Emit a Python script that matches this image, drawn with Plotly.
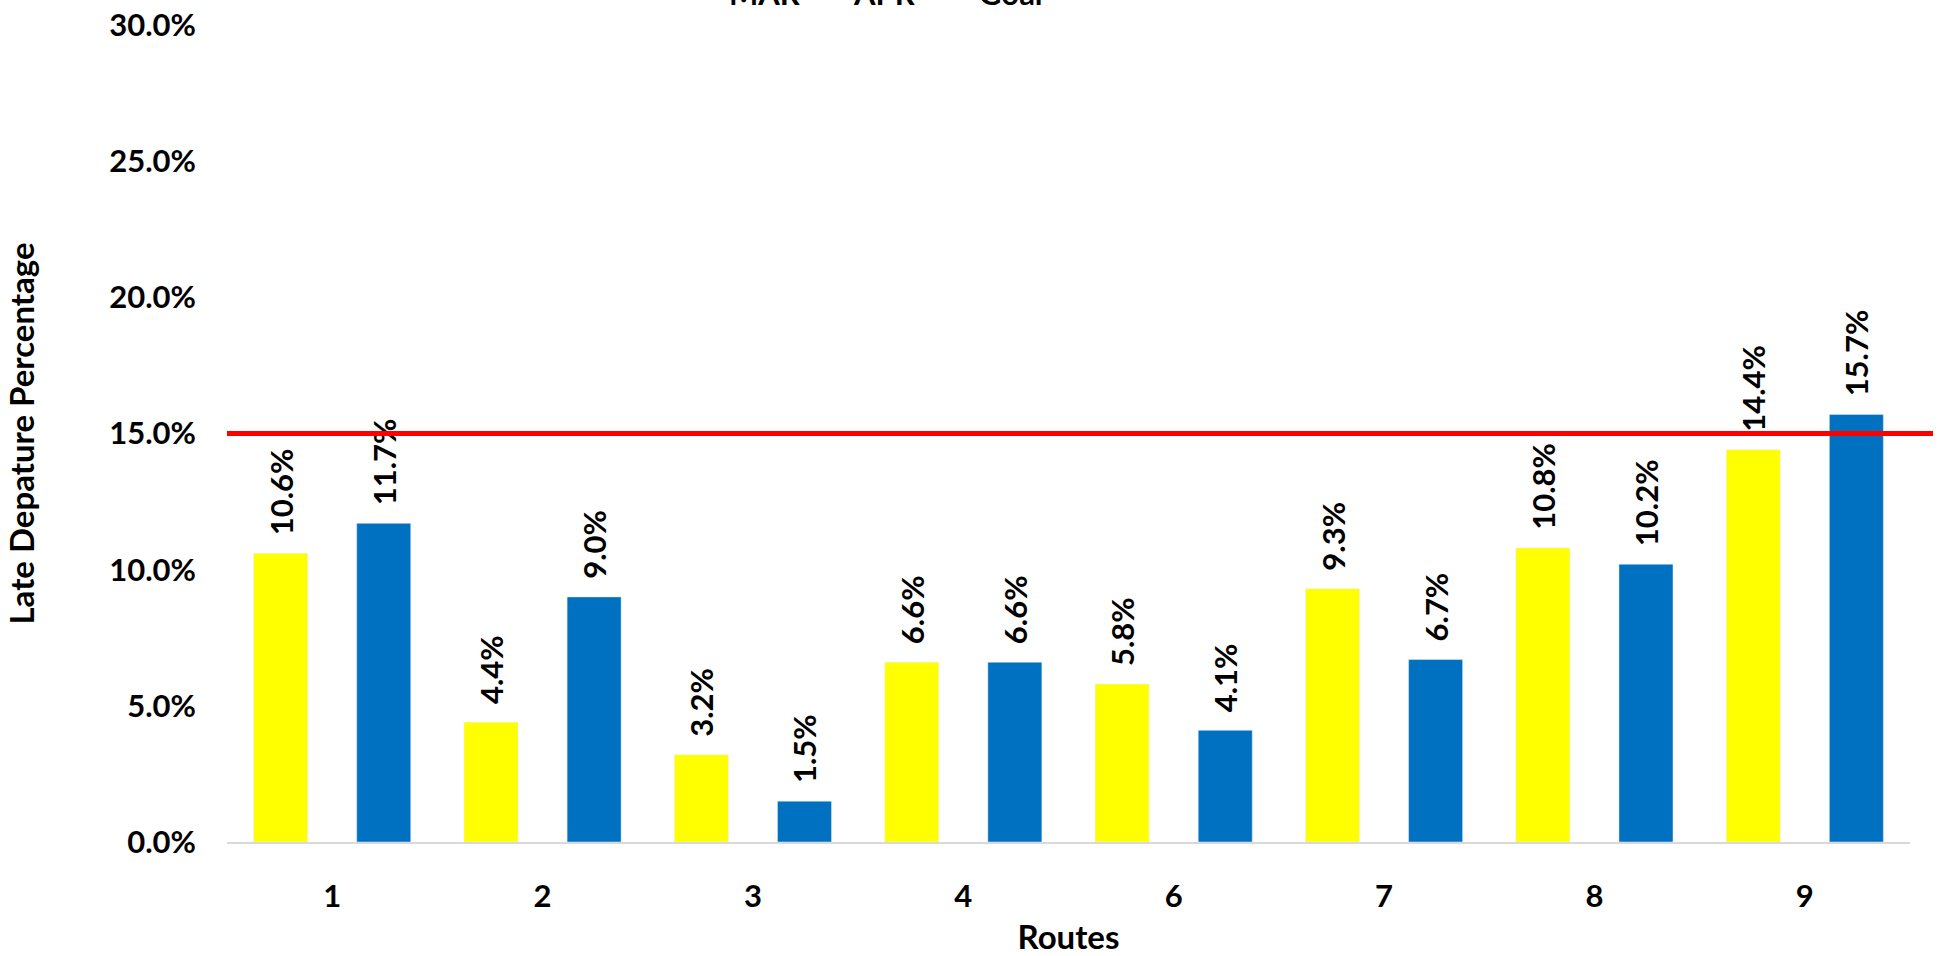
import plotly.graph_objects as go

routes = ["1", "2", "3", "4", "6", "7", "8", "9"]
mar = [0.106, 0.044, 0.032, 0.066, 0.058, 0.093, 0.108, 0.144]
apr = [0.117, 0.090, 0.015, 0.066, 0.041, 0.067, 0.102, 0.157]
goal = 0.15

FONT = "Lato"
NB = "\u00a0\u00a0"

def labels(vals):
    return [NB + f"{v*100:.1f}%" for v in vals]

fig = go.Figure()
fig.add_trace(go.Bar(
    x=routes, y=mar, name="MAR", marker_color="#FFFF00",
    text=labels(mar), textposition="outside", textangle=-90,
    textfont=dict(family=FONT, size=31, color="black", weight="bold"),
    constraintext="none", cliponaxis=False,
))
fig.add_trace(go.Bar(
    x=routes, y=apr, name="APR", marker_color="#0070C0",
    text=labels(apr), textposition="outside", textangle=-90,
    textfont=dict(family=FONT, size=31, color="black", weight="bold"),
    constraintext="none", cliponaxis=False,
))
fig.add_trace(go.Scatter(
    x=[0, 1], y=[goal, goal], name="Goal", mode="lines",
    line=dict(color="#FF0000", width=5),
    xaxis="x2", yaxis="y",
))

fig.update_layout(
    width=1944, height=956,
    margin=dict(l=227, r=11, t=25, b=114, autoexpand=False),
    plot_bgcolor="rgba(0,0,0,0)", paper_bgcolor="white",
    barmode="group", bargap=0.02, bargroupgap=0.476,
    font=dict(family=FONT, size=31, color="black", weight="bold"),
    uniformtext=dict(mode=False),
    xaxis=dict(
        type="category", domain=[0, 0.98652],
        showline=True, linecolor="#D9D9D9", linewidth=2,
        showgrid=False, zeroline=False, ticks="",
        tickfont=dict(family=FONT, size=31, color="black", weight="bold"),
        ticklabelstandoff=26,
        title=dict(text="Routes", standoff=53,
                   font=dict(family=FONT, size=33, color="black", weight="bold")),
    ),
    xaxis2=dict(domain=[0, 1], range=[0, 1], anchor="y", visible=False,
                showgrid=False, zeroline=False),
    yaxis=dict(
        range=[0, 0.30], dtick=0.05, tickformat=".1%",
        showgrid=False, zeroline=False, showline=False, ticks="",
        tickfont=dict(family=FONT, size=31, color="black", weight="bold"),
        ticklabelstandoff=30,
        title=dict(text="Late Depature Percentage", standoff=64,
                   font=dict(family=FONT, size=33, color="black", weight="bold")),
    ),
    showlegend=True,
    legend=dict(
        orientation="h", xref="paper", yref="paper",
        x=(689 - 227) / 1706, xanchor="left", y=1.039, yanchor="middle",
        entrywidth=80, entrywidthmode="pixels",
        font=dict(family=FONT, size=31, color="black", weight="bold"),
        bgcolor="rgba(0,0,0,0)", traceorder="normal",
    ),
)

fig.write_html("out.html")
